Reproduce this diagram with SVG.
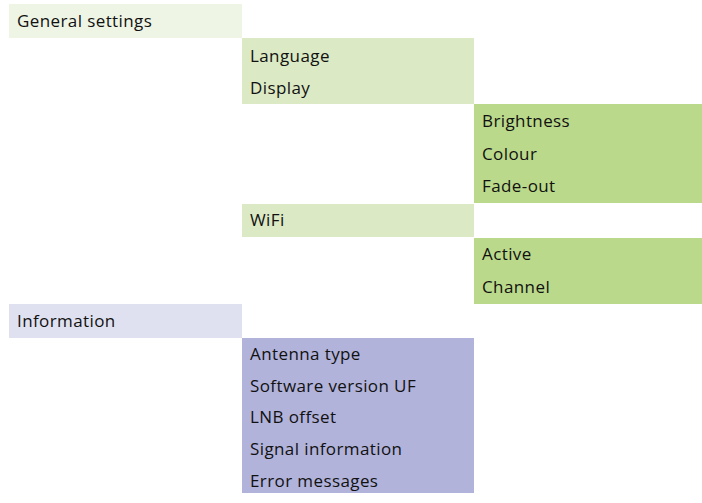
<svg xmlns="http://www.w3.org/2000/svg" width="702" height="503" viewBox="0 0 702 503">
<style>
text{font-family:"Open Sans","Noto Sans","Liberation Sans",sans-serif;font-size:17px;letter-spacing:0.4px;fill:#111111}
.l1g{fill:#eff5e5}.l2g{fill:#dbe9c4}.l3g{fill:#bbd98b}.l1b{fill:#e0e1f0}.l2b{fill:#b1b3db}
</style>
<rect width="702" height="503" fill="#ffffff"/>
<g id="general-settings"><rect class="l1g" x="9" y="4" width="233" height="34"/><text x="17" y="27">General settings</text></g>
<g id="general-sub"><rect class="l2g" x="242" y="38" width="232" height="66"/><text x="250" y="61.5">Language</text><text x="250" y="94">Display</text></g>
<g id="display-sub"><rect class="l3g" x="474" y="104" width="228" height="99"/><text x="482" y="127">Brightness</text><text x="482" y="159.5">Colour</text><text x="482" y="192">Fade-out</text></g>
<g id="wifi"><rect class="l2g" x="242" y="204" width="232" height="33"/><text x="250" y="226">WiFi</text></g>
<g id="wifi-sub"><rect class="l3g" x="474" y="238" width="228" height="66"/><text x="482" y="260">Active</text><text x="482" y="293">Channel</text></g>
<g id="information"><rect class="l1b" x="9" y="304" width="233" height="34"/><text x="17" y="327">Information</text></g>
<g id="information-sub"><rect class="l2b" x="242" y="338" width="232" height="155"/><text x="250" y="360">Antenna type</text><text x="250" y="391.5">Software version UF</text><text x="250" y="423">LNB offset</text><text x="250" y="455">Signal information</text><text x="250" y="487">Error messages</text></g>
</svg>
